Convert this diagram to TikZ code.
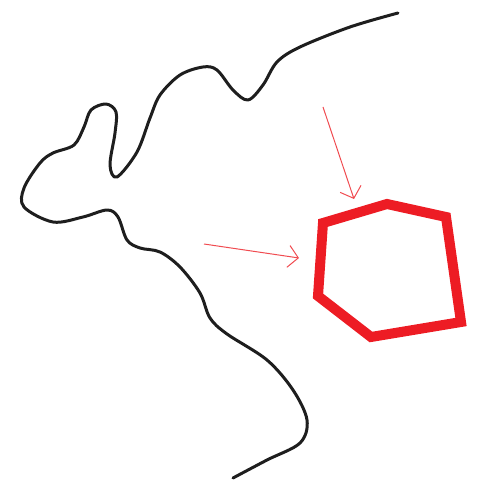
\documentclass[tikz,border=0pt]{standalone}
\usepackage{tikz}
\usetikzlibrary{arrows.meta}
\definecolor{clrRed} {RGB}{237, 28, 36}
\definecolor{clrPtr} {RGB}{240, 75, 80}
\definecolor{clrInk} {RGB}{ 30, 30, 30}
\tikzset{
  coast/.style={draw=clrInk, line width=3pt, line cap=round, line join=round},
  hexline/.style={draw=clrRed, line width=10pt, line join=miter},
  ptr/.style={-{Straight Barb[length=10pt,width=22pt,line width=1pt]}, draw=clrPtr, line width=1pt},
}
\begin{document}
\begin{tikzpicture}[x=1pt,y=-1pt]
\useasboundingbox (0,0) rectangle (491,484);
% wavy black line
\draw[coast] plot[smooth, tension=0.55] coordinates {
  (398,13) (350,27) (300,47) (277,62) (263,85) (248,100) (233,90) (217,70)
  (203,67) (180,75) (160,95) (150,118) (137,152) (117,177) (110,165) (115,133)
  (116,112) (106,104) (91,110) (84,127) (74,145) (53,153) (40,163) (24,188)
  (24,207) (53,222) (83,217) (107,210) (118,217) (127,240) (140,248) (160,252)
  (180,267) (200,293) (210,318) (227,334) (267,360) (293,390) (307,420)
  (300,443) (267,460) (233,478)};
% hexagon
\coordinate (h1) at (387,204);
\coordinate (h2) at (446,217);
\coordinate (h3) at (461,322);
\coordinate (h4) at (371,337);
\coordinate (h5) at (318,296);
\coordinate (h6) at (323,223);
\draw[hexline] (h1) -- (h2) -- (h3) -- (h4) -- (h5) -- (h6) -- cycle;
% pointers
\coordinate (topstart) at (323,107);
\coordinate (topend) at (354,199);
\coordinate (leftstart) at (204,244);
\coordinate (leftend) at (299,258);
\draw[ptr] (topstart) -- (topend);
\draw[ptr] (leftstart) -- (leftend);
\end{tikzpicture}
\end{document}
